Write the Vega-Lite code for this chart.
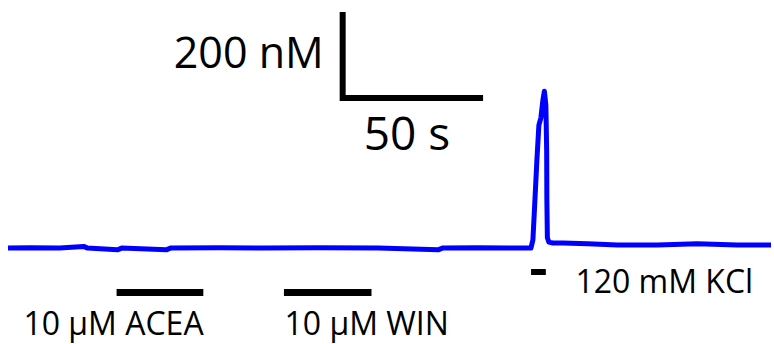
{
  "$schema": "https://vega.github.io/schema/vega-lite/v6.json",
  "width": 774,
  "height": 344,
  "padding": 0,
  "autosize": {"type": "fit", "contains": "padding"},
  "background": "white",
  "config": {"view": {"stroke": null}},
  "datasets": {
    "trace": [
      {"t": 2.86, "c": 223}, {"t": 10.7, "c": 224}, {"t": 21.4, "c": 223},
      {"t": 30.0, "c": 227}, {"t": 31.4, "c": 223}, {"t": 42.1, "c": 219},
      {"t": 43.6, "c": 223}, {"t": 59.6, "c": 219}, {"t": 61.1, "c": 223},
      {"t": 78.6, "c": 224}, {"t": 94.6, "c": 223}, {"t": 114.3, "c": 224},
      {"t": 135.7, "c": 223}, {"t": 157.1, "c": 219}, {"t": 158.6, "c": 223},
      {"t": 171.4, "c": 224}, {"t": 182.1, "c": 223}, {"t": 190.36, "c": 223},
      {"t": 191.07, "c": 242}, {"t": 191.79, "c": 335}, {"t": 192.5, "c": 428},
      {"t": 193.21, "c": 509}, {"t": 193.93, "c": 526}, {"t": 194.64, "c": 567},
      {"t": 195.18, "c": 588}, {"t": 195.71, "c": 556}, {"t": 196.0, "c": 451},
      {"t": 196.07, "c": 335}, {"t": 196.25, "c": 247}, {"t": 196.79, "c": 237},
      {"t": 198.21, "c": 235}, {"t": 201.79, "c": 235}, {"t": 210.71, "c": 233},
      {"t": 221.43, "c": 230}, {"t": 235.71, "c": 230}, {"t": 250.0, "c": 233},
      {"t": 264.29, "c": 230}, {"t": 276.43, "c": 230}
    ],
    "scalebars": [
      {"t": 122.86, "t2": 122.86, "c": 772.1, "c2": 565.1},
      {"t": 121.96, "t2": 173.2, "c": 572.1, "c2": 572.1}
    ],
    "drugbars": [
      {"name": "ACEA", "t": 41.8, "t2": 72.9, "c": 119.8},
      {"name": "WIN", "t": 101.8, "t2": 133.2, "c": 119.8}
    ],
    "kclbar": [
      {"name": "KCl", "t": 190.4, "t2": 195.7, "c": 167.4}
    ]
  },
  "layer": [
    {
      "data": {"name": "trace"},
      "mark": {"type": "line", "color": "#0000ff", "strokeWidth": 5, "strokeJoin": "round"},
      "encoding": {
        "x": {"field": "t", "type": "quantitative", "scale": {"domain": [0, 276.43], "nice": false, "zero": false}, "axis": null},
        "y": {"field": "c", "type": "quantitative", "scale": {"domain": [0, 800], "nice": false, "zero": false}, "axis": null}
      }
    },
    {
      "data": {"name": "scalebars"},
      "mark": {"type": "rule", "color": "black", "strokeWidth": 6},
      "encoding": {
        "x": {"field": "t", "type": "quantitative"},
        "x2": {"field": "t2"},
        "y": {"field": "c", "type": "quantitative"},
        "y2": {"field": "c2"}
      }
    },
    {
      "data": {"name": "drugbars"},
      "mark": {"type": "rule", "color": "black", "strokeWidth": 7},
      "encoding": {
        "x": {"field": "t", "type": "quantitative"},
        "x2": {"field": "t2"},
        "y": {"field": "c", "type": "quantitative"}
      }
    },
    {
      "data": {"name": "kclbar"},
      "mark": {"type": "rule", "color": "black", "strokeWidth": 6},
      "encoding": {
        "x": {"field": "t", "type": "quantitative"},
        "x2": {"field": "t2"},
        "y": {"field": "c", "type": "quantitative"}
      }
    },
    {
      "data": {"values": [{"label": "200 nM", "t": 62.3, "c": 641.9}]},
      "mark": {"type": "text", "font": "Open Sans", "fontSize": 43, "align": "left", "baseline": "alphabetic", "color": "black"},
      "encoding": {
        "x": {"field": "t", "type": "quantitative"},
        "y": {"field": "c", "type": "quantitative"},
        "text": {"field": "label"}
      }
    },
    {
      "data": {"values": [{"label": "50 s", "t": 130.4, "c": 451.2}]},
      "mark": {"type": "text", "font": "Open Sans", "fontSize": 46, "align": "left", "baseline": "alphabetic", "color": "black"},
      "encoding": {
        "x": {"field": "t", "type": "quantitative"},
        "y": {"field": "c", "type": "quantitative"},
        "text": {"field": "label"}
      }
    },
    {
      "data": {"values": [
        {"label": "10 µM ACEA", "t": 8.4, "c": 21.5},
        {"label": "10 µM WIN", "t": 102.0, "c": 21.5},
        {"label": "120 mM KCl", "t": 206.3, "c": 118.6}
      ]},
      "mark": {"type": "text", "font": "Open Sans", "fontSize": 32, "align": "left", "baseline": "alphabetic", "color": "black"},
      "encoding": {
        "x": {"field": "t", "type": "quantitative"},
        "y": {"field": "c", "type": "quantitative"},
        "text": {"field": "label"}
      }
    }
  ]
}
